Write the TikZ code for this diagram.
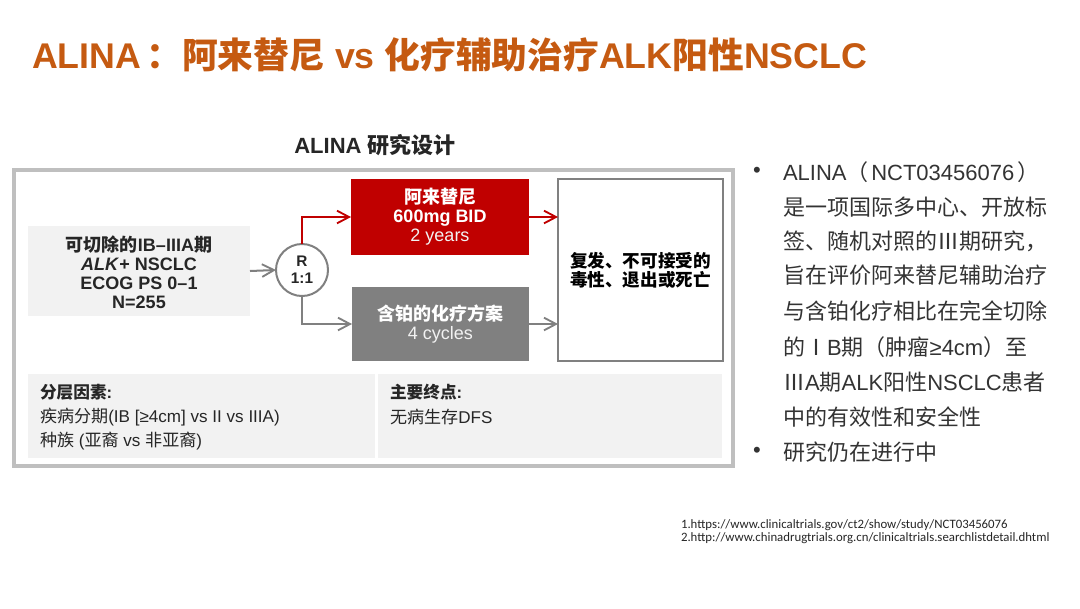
\documentclass[tikz,border=0pt]{standalone}
\usepackage{fontspec}
\setmainfont{Liberation Sans}
\newfontfamily\zhfont{Noto Sans CJK SC}
\newfontfamily\fnfont{Carlito}
\usetikzlibrary{arrows.meta}
\newcommand\zh[1]{{\zhfont #1}}
\definecolor{ttl}{HTML}{C55A11}
\definecolor{redbox}{HTML}{C00000}
\definecolor{graybox}{HTML}{808080}
\definecolor{lightbg}{HTML}{F2F2F2}
\definecolor{framec}{HTML}{BFBFBF}
\definecolor{txt}{HTML}{262626}
\definecolor{bodytxt}{HTML}{333333}
\begin{document}
\begin{tikzpicture}[x=0.75pt,y=-0.75pt,
  every node/.style={inner sep=0pt, outer sep=0pt},
  arrowline/.style={line width=1.5pt, -{Straight Barb[length=9pt,width=9.5pt,line width=1.4pt]}},
  boxtext/.style={align=center, font=\bfseries\fontsize{13.5}{14.2}\selectfont},
  paneltext/.style={anchor=west, font=\fontsize{12.8}{14}\selectfont, text=txt},
  bullettext/.style={anchor=west, font=\fontsize{16.5}{18}\selectfont, text=bodytxt},
  fntext/.style={anchor=west, font=\fnfont\fontsize{9.6}{10}\selectfont, text=txt}]
\useasboundingbox[fill=white] (0,0) rectangle (1080,608);

% title
\node[anchor=west, text=ttl, font=\bfseries\fontsize{26.8}{28}\selectfont] (title) at (32,55)
  {ALINA\hspace{4pt}\zh{：阿来替尼} vs \zh{化疗辅助治疗}ALK\zh{阳性}NSCLC};

\node[font=\bfseries\fontsize{16.5}{18}\selectfont, text=txt] (subtitle) at (375,145) {ALINA \zh{研究设计}};

% frame
\node[draw=framec, line width=3pt, minimum width=539.25pt, minimum height=222pt] (frame) at (373.5,318) {};

% left box
\node[fill=lightbg, minimum width=166.5pt, minimum height=67.5pt] (elig) at (139,271) {};
\node[boxtext, text=txt] (eligtxt) at (139,272)
  {\zh{可切除的}IB–IIIA\zh{期}\\ \textit{ALK}+ NSCLC\\ ECOG PS 0–1\\ N=255};

% randomisation circle
\node[circle, draw=graybox, line width=1.5pt, fill=white, minimum size=39pt,
      align=center, font=\bfseries\fontsize{11.5}{13}\selectfont, text=txt] (R) at (302,270) {R\\1:1};

% arms
\node[fill=redbox, minimum width=133.5pt, minimum height=57pt] (red) at (440,217) {};
\node[boxtext, text=white] (redtxt) at (440,217)
  {\zh{阿来替尼}\\600mg BID\\{\mdseries\color{lightbg}2 years}};
\node[fill=graybox, minimum width=132.75pt, minimum height=55.5pt] (gray) at (440.5,324) {};
\node[boxtext, text=white] (graytxt) at (440.5,324)
  {\zh{含铂的化疗方案}\\{\mdseries\color{lightbg}4 cycles}};

% outcome box
\node[draw=graybox, line width=1.5pt, fill=white, minimum width=123.75pt, minimum height=136.5pt] (out) at (640.5,270) {};
\node[boxtext, text=black, font=\bfseries\fontsize{13.2}{14}\selectfont] (outtxt) at (640.5,270)
  {\zh{复发、不可接受的}\\\zh{毒性、退出或死亡}};

% connectors
\draw[arrowline, draw=graybox] (elig.east) -- (R.west);
\draw[arrowline, draw=redbox] (R.north) |- (red.west);
\draw[arrowline, draw=graybox] (R.south) |- (gray.west);
\draw[arrowline, draw=redbox] (red.east) -- (red.east -| out.west);
\draw[arrowline, draw=graybox] (gray.east) -- (gray.east -| out.west);

% bottom panels
\node[fill=lightbg, minimum width=260.25pt, minimum height=63pt] (strat) at (201.5,416) {};
\node[fill=lightbg, minimum width=258pt, minimum height=63pt] (endp) at (550,416) {};
\node[paneltext, font=\bfseries\fontsize{12.5}{14}\selectfont] (s1) at (40,392) {\zh{分层因素}:};
\node[paneltext] (s2) at (40,417) {\zh{疾病分期}(IB [≥4cm] vs II vs IIIA)};
\node[paneltext] (s3) at (40,441) {\zh{种族} (\zh{亚裔} vs \zh{非亚裔})};
\node[paneltext, font=\bfseries\fontsize{12.5}{14}\selectfont] (e1) at (390,392) {\zh{主要终点}:};
\node[paneltext] (e2) at (390,417) {\zh{无病生存}DFS};

% bullets
\node[bullettext] (b1) at (753,172) {•};
\node[bullettext] (b2) at (753,452) {•};
\node[bullettext] (l1) at (783,172) {ALINA\zh{（}\hspace{2pt}NCT03456076\hspace{2pt}\zh{）}};
\node[bullettext] (l2) at (783,207) {\zh{是一项国际多中心、开放标}};
\node[bullettext] (l3) at (783,241) {\zh{签、随机对照的Ⅲ期研究，}};
\node[bullettext] (l4) at (783,275) {\zh{旨在评价阿来替尼辅助治疗}};
\node[bullettext] (l5) at (783,311) {\zh{与含铂化疗相比在完全切除}};
\node[bullettext] (l6) at (783,347) {\zh{的Ⅰ}B\zh{期（肿瘤}≥4cm\zh{）至}};
\node[bullettext] (l7) at (783,382) {\zh{Ⅲ}A\zh{期}ALK\zh{阳性}NSCLC\zh{患者}};
\node[bullettext] (l8) at (783,417) {\zh{中的有效性和安全性}};
\node[bullettext] (l9) at (783,452) {\zh{研究仍在进行中}};

% footnotes
\node[fntext] (f1) at (681,525) {1.https://www.clinicaltrials.gov/ct2/show/study/NCT03456076};
\node[fntext] (f2) at (681,538) {2.http://www.chinadrugtrials.org.cn/clinicaltrials.searchlistdetail.dhtml};
\end{tikzpicture}
\end{document}
